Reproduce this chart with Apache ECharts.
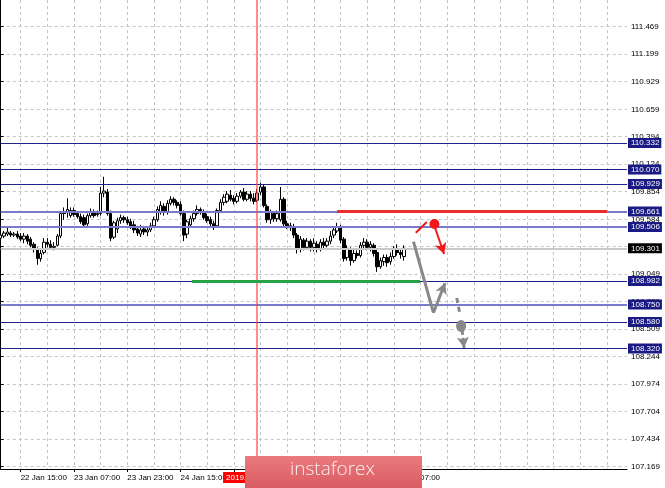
<!DOCTYPE html>
<html><head><meta charset="utf-8">
<script src="https://cdn.jsdelivr.net/npm/echarts@6/dist/echarts.min.js"></script>
<style>html,body{margin:0;padding:0;background:#fff}#c{width:665px;height:488px}</style>
</head><body><div id="c"></div>
<script>
// ---- data (USDJPY H1) ----
const openP = [109.40,109.42,109.44,109.45,109.43,109.44,109.42,109.39,109.42,109.39,
109.34,109.29,109.20,109.26,109.36,109.34,109.31,109.33,109.42,109.64,
109.66,109.62,109.67,109.64,109.61,109.60,109.54,109.62,109.66,109.63,
109.64,109.84,109.85,109.64,109.41,109.49,109.57,109.60,109.58,109.56,
109.53,109.49,109.44,109.49,109.46,109.48,109.52,109.58,109.66,109.71,
109.65,109.74,109.78,109.75,109.73,109.64,109.44,109.53,109.59,109.64,
109.68,109.66,109.61,109.58,109.54,109.52,109.67,109.75,109.76,109.82,
109.79,109.76,109.81,109.85,109.78,109.83,109.79,109.77,109.85,109.90,
109.71,109.58,109.64,109.59,109.58,109.78,109.54,109.52,109.51,109.43,
109.29,109.38,109.31,109.37,109.31,109.34,109.29,109.36,109.33,109.37,
109.43,109.47,109.51,109.39,109.21,109.29,109.18,109.25,109.23,109.33,
109.36,109.31,109.33,109.26,109.12,109.17,109.21,109.17,109.22,109.29,
109.26,109.22];
const highP = [109.45,109.47,109.50,109.47,109.46,109.47,109.45,109.45,109.44,109.41,
109.36,109.31,109.30,109.40,109.40,109.38,109.36,109.44,109.66,109.70,
109.79,109.70,109.70,109.66,109.64,109.63,109.64,109.69,109.68,109.67,
109.90,110.00,109.88,109.67,109.57,109.60,109.63,109.62,109.61,109.59,
109.57,109.52,109.53,109.52,109.51,109.55,109.61,109.71,109.76,109.74,
109.77,109.81,109.80,109.77,109.76,109.67,109.58,109.62,109.67,109.72,
109.70,109.68,109.64,109.61,109.57,109.69,109.78,109.83,109.86,109.87,
109.82,109.84,109.87,109.89,109.86,109.86,109.84,109.88,109.94,109.92,
109.73,109.68,109.66,109.67,109.90,109.80,109.57,109.55,109.54,109.45,
109.42,109.40,109.40,109.39,109.40,109.37,109.39,109.40,109.40,109.47,
109.51,109.55,109.53,109.41,109.33,109.31,109.29,109.28,109.36,109.40,
109.39,109.37,109.35,109.29,109.21,109.24,109.24,109.26,109.32,109.34,
109.30,109.33];
const lowP = [109.38,109.40,109.42,109.41,109.41,109.39,109.37,109.35,109.34,109.31,
109.26,109.14,109.17,109.24,109.31,109.30,109.28,109.32,109.40,109.58,
109.60,109.60,109.61,109.59,109.54,109.51,109.52,109.60,109.60,109.61,
109.62,109.80,109.62,109.37,109.39,109.45,109.54,109.55,109.53,109.49,
109.45,109.42,109.41,109.43,109.42,109.46,109.50,109.56,109.63,109.62,
109.63,109.72,109.72,109.69,109.62,109.37,109.40,109.50,109.56,109.62,
109.63,109.58,109.55,109.52,109.48,109.50,109.65,109.72,109.74,109.76,
109.73,109.74,109.79,109.76,109.76,109.76,109.73,109.75,109.82,109.70,
109.55,109.54,109.56,109.56,109.56,109.51,109.49,109.47,109.40,109.25,
109.26,109.28,109.29,109.27,109.27,109.26,109.27,109.30,109.31,109.34,
109.40,109.45,109.35,109.17,109.18,109.13,109.16,109.20,109.21,109.30,
109.28,109.27,109.22,109.07,109.10,109.13,109.12,109.14,109.20,109.23,
109.20,109.18];
const closeP = [109.43,109.45,109.46,109.43,109.44,109.41,109.39,109.42,109.37,109.33,
109.29,109.20,109.25,109.36,109.34,109.31,109.32,109.42,109.64,109.66,
109.68,109.67,109.63,109.61,109.56,109.53,109.62,109.66,109.62,109.64,
109.84,109.86,109.64,109.40,109.55,109.57,109.60,109.58,109.55,109.52,
109.48,109.45,109.48,109.46,109.48,109.52,109.58,109.68,109.72,109.65,
109.74,109.78,109.75,109.72,109.64,109.43,109.56,109.59,109.64,109.68,
109.66,109.60,109.57,109.54,109.52,109.67,109.75,109.80,109.83,109.78,
109.76,109.81,109.85,109.78,109.83,109.79,109.76,109.84,109.90,109.72,
109.58,109.65,109.59,109.64,109.78,109.54,109.52,109.50,109.43,109.29,
109.39,109.31,109.37,109.31,109.35,109.29,109.36,109.33,109.37,109.42,
109.48,109.51,109.38,109.20,109.30,109.18,109.25,109.23,109.33,109.36,
109.31,109.34,109.25,109.12,109.18,109.21,109.16,109.22,109.29,109.26,
109.24,109.301];
const tickVals = [107.169,107.434,107.704,107.974,108.244,108.509,108.779,109.049,109.319,
109.584,109.854,110.124,110.394,110.659,110.929,111.199,111.469];
const levelsDark = [110.332,110.070,109.929,108.982,108.580,108.320];
const levelsLight = [109.661,109.506,108.750];
const bidPrice = 109.301;
const markerIndex = 77;
const markerLabel = '2019.01.25 14:00';
const redLevel = 109.661, redFrom = 101, redTo = 182;
const greenLevel = 108.975, greenFrom = 57.4, greenTo = 125.9;
// forecast sketch (bar index, price)
const redTick = [[124.6,109.453],[127.9,109.558]];
const redDot = [130.2,109.538];
const redArrow = [[130.4,109.499],[133.1,109.245]];
const grayPath = [[123.9,109.365],[129.9,108.671],[133.4,108.962]];
const grayDash = [[136.9,108.815],[137.9,108.649]];
const grayDot = [138.2,108.541];
const grayArrow = [[138.5,108.502],[139.1,108.326]];

// ---- layout ----
const N = 189;
const yMin = 107.143, yMax = 111.728;
function makeTimes(n){
  const out=[]; let d=22,h=9;
  for(let i=0;i<n;i++){
    out.push(d+' Jan '+String(h).padStart(2,'0')+':00');
    h++; if(h===24){h=0;d++; if(d===26)d=28;}
  }
  return out;
}
const times = makeTimes(openP.length);
const cats = times.concat(new Array(N-times.length).fill(''));
const candles = openP.map((o,i)=>[o,closeP[i],lowP[i],highP[i]]);
const labelInt = (i)=> i>=6 && (i-6)%16===0 && i<times.length;
const gridInt = (i)=> i>=6 && (i-6)%8===0;
const FONT = 'Liberation Sans';

const boxLabel = (v,bg)=>({show:true, position:'end', distance:1, formatter:v.toFixed(3),
  backgroundColor:bg, color:'#fff', fontSize:8, fontFamily:FONT, padding:[1,2,0,3], lineHeight:9});
const levelLines = [];
levelsDark.forEach(v=>levelLines.push({yAxis:v, lineStyle:{color:'#22228a',width:1,type:'solid'}, label:boxLabel(v,'#1a1a84')}));
levelsLight.forEach(v=>levelLines.push({yAxis:v, lineStyle:{color:'#7a7acc',width:2,type:'solid'}, label:boxLabel(v,'#1a1a84')}));
levelLines.push({yAxis:bidPrice, lineStyle:{color:'#c8c8c8',width:2,type:'solid'}, label:boxLabel(bidPrice,'#000')});

const seg = (a,b,style,sym)=>[{coord:a, lineStyle:style, symbol:'none'},{coord:b, symbol:sym||'none', symbolSize:[9,11]}];
const sketch = [
  [{coord:[redFrom,redLevel], lineStyle:{color:'#ee2a2a',width:3,type:'solid'}},{coord:[redTo,redLevel]}],
  [{coord:[greenFrom,greenLevel], lineStyle:{color:'#27a347',width:3,type:'solid'}},{coord:[greenTo,greenLevel]}],
  seg(redTick[0],redTick[1],{color:'#f01818',width:2,type:'solid'}),
  seg(redArrow[0],redArrow[1],{color:'#f01818',width:2,type:'solid'},'arrow'),
  seg(grayPath[0],grayPath[1],{color:'#888',width:3,type:'solid'}),
  seg(grayPath[1],grayPath[2],{color:'#888',width:3,type:'solid'},'arrow'),
  seg(grayDash[0],grayDash[1],{color:'#888',width:3,type:[5,4]}),
  seg(grayArrow[0],grayArrow[1],{color:'#888',width:3,type:[5,3]},'arrow')
];

const chart = echarts.init(document.getElementById('c'), null, {renderer:'canvas'});
chart.setOption({
  animation:false,
  backgroundColor:'#fff',
  grid:{left:0.675, right:38, top:0, bottom:19, containLabel:false},
  xAxis:[{
    type:'category', data:cats, boundaryGap:false,
    axisLine:{show:true, lineStyle:{color:'#000',width:1}},
    axisTick:{show:true, interval:labelInt, length:3, lineStyle:{color:'#000'}},
    axisLabel:{show:true, interval:labelInt, align:'left', fontSize:8, color:'#000', fontFamily:FONT, margin:5},
    splitLine:{show:true, interval:gridInt, lineStyle:{color:'#c4c4c4', type:[3,3], width:1}}
  },{
    type:'value', min:0, max:N-1, show:false
  }],
  yAxis:{
    type:'value', position:'right', min:yMin, max:yMax,
    axisLine:{show:true, lineStyle:{color:'#000',width:1}},
    axisTick:{show:true, length:3, inside:false, customValues:tickVals, lineStyle:{color:'#000'}},
    axisLabel:{show:true, customValues:tickVals, formatter:(v)=>v.toFixed(3), fontSize:8, color:'#000', fontFamily:FONT, margin:4},
    splitLine:{show:true, lineStyle:{color:'#c4c4c4', type:[3,3], width:1}}
  },
  series:[
    {
      type:'candlestick', xAxisIndex:0, data:candles, barWidth:3, z:3,
      itemStyle:{color:'#fff', color0:'#000', borderColor:'#000', borderColor0:'#000', borderWidth:1}
    },
    {
      type:'line', xAxisIndex:1, data:[[0,null]], showSymbol:false, z:5, silent:true,
      markLine:{silent:true, symbol:['none','none'], animation:false, data:levelLines}
    },
    {
      type:'line', xAxisIndex:1, data:[[0,null]], showSymbol:false, z:6, silent:true,
      markLine:{silent:true, symbol:['none','none'], animation:false,
        data:[{xAxis:markerIndex, lineStyle:{color:'rgba(255,60,60,0.6)',width:2,type:'solid'},
          label:{show:true, position:'start', formatter:markerLabel, backgroundColor:'#ff0000', color:'#fff',
            fontSize:8, fontFamily:FONT, padding:[2,3,1,3], distance:3}}]}
    },
    {
      type:'line', xAxisIndex:1, data:[[0,null]], showSymbol:false, z:7, silent:true,
      markLine:{silent:true, symbol:['none','none'], animation:false, label:{show:false}, data:sketch},
      markPoint:{silent:true, label:{show:false}, animation:false, data:[
        {coord:redDot, symbol:'circle', symbolSize:10, itemStyle:{color:'#f01818'}},
        {coord:grayDot, symbol:'circle', symbolSize:[10,12], itemStyle:{color:'#888'}}
      ]}
    }
  ],
  graphic:[
    {type:'rect', left:245, top:456, zlevel:2, z:100, silent:true,
     shape:{width:177,height:34},
     style:{fill:new echarts.graphic.LinearGradient(0,0,0,1,[{offset:0,color:'#e97a7e'},{offset:1,color:'#d95a60'}])}},
    {type:'text', left:290, top:460, zlevel:2, z:101, silent:true,
     style:{text:'instaforex', fill:'#fdf0f0', font:'300 19px "Open Sans"'}}
  ]
});
</script></body></html>
